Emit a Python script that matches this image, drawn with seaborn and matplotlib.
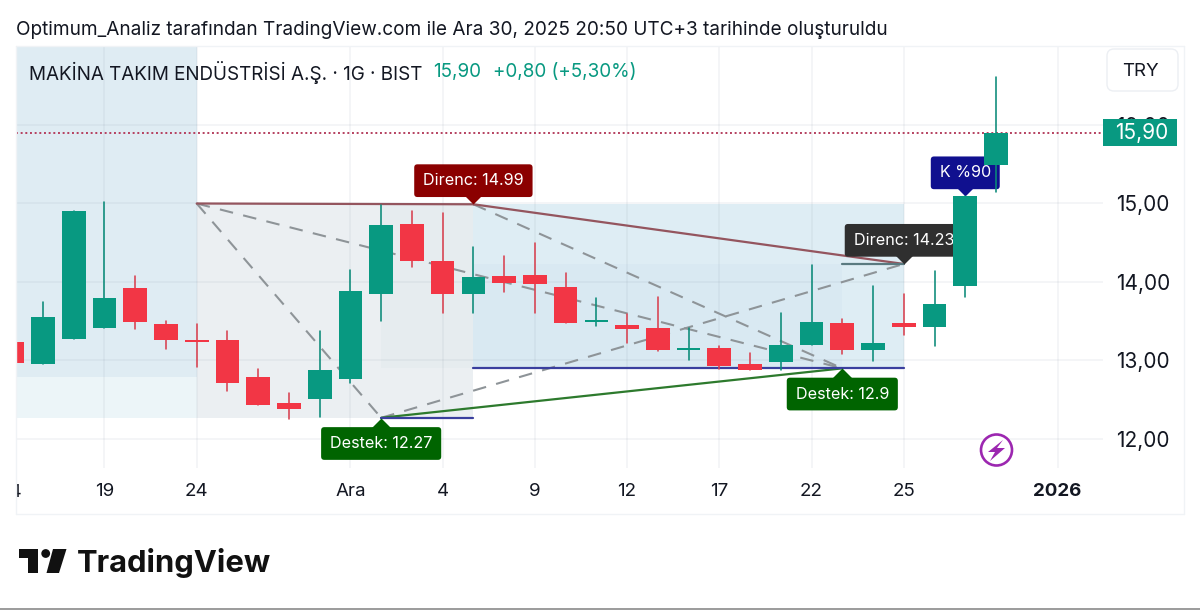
import numpy as np
import pandas as pd
import matplotlib
matplotlib.use("Agg")
import matplotlib.pyplot as plt
import seaborn as sns
from matplotlib.patches import FancyBboxPatch, Rectangle, Circle, Polygon
from matplotlib.path import Path
from matplotlib.transforms import Affine2D, Bbox, TransformedBbox, IdentityTransform, blended_transform_factory

# ---- data ----
bars = list(range(-1, 32))
opens = [13.23,12.96,13.28,13.41,13.92,13.46,13.265,13.257,12.795,12.455,12.51,12.76,13.85,14.735,14.27,13.85,
         14.08,14.09,13.93,13.485,13.45,13.41,13.14,13.155,12.95,12.98,13.20,13.475,13.13,13.48,13.43,13.95,15.49]
highs = [13.23,13.745,14.90,15.015,14.08,13.50,13.46,13.38,12.89,12.58,13.38,14.15,14.98,14.90,14.875,14.45,
         14.325,14.50,14.12,13.79,13.59,13.81,13.41,13.19,13.10,13.60,14.22,13.53,13.95,13.85,14.135,15.09,16.61]
lows = [12.97,12.96,13.28,13.41,13.40,13.146,12.92,12.615,12.43,12.26,12.285,12.71,13.50,14.19,13.61,13.61,
        13.875,13.61,13.48,13.435,13.22,13.12,13.0,12.89,12.88,12.88,13.2,13.08,12.99,13.325,13.185,13.815,15.15]
closes = [12.97,13.55,14.90,13.80,13.49,13.257,13.24,12.71,12.43,12.38,12.875,13.89,14.73,14.27,13.85,14.07,
          13.985,13.97,13.48,13.51,13.40,13.13,13.165,12.925,12.88,13.2,13.49,13.13,13.22,13.43,13.72,15.09,15.895]

rect_k0 = [-2, -2, 5, 11, 14, 14]
rect_k1 = [5, 5, 14, 14, 28, 26]
rect_lo = [12.27, 12.79, 12.27, 12.9, 12.9, 12.9]
rect_hi = [12.79, 18.0, 15.0, 15.0, 14.99, 14.23]
rect_colors = ["#ecf5f8", "#dfecf3", "#ebeff2", "#e6ecef", "#deedf4", "#d9e9f2"]

solid_k0 = [5, 14, 11, 11, 14, 26]
solid_p0 = [15.0, 14.99, 12.27, 12.27, 12.9, 14.23]
solid_k1 = [14, 28, 26, 14, 28, 28]
solid_p1 = [14.99, 14.23, 12.9, 12.27, 12.9, 14.23]
solid_colors = ["#94555e", "#94555e", "#2d7a2d", "#3a3f9e", "#3a3f9e", "#5a7a80"]

dash_k0 = [5, 5, 14, 11]
dash_p0 = [15.0, 15.0, 14.99, 12.27]
dash_k1 = [11, 26, 26, 28]
dash_p1 = [12.27, 12.9, 12.9, 14.23]

x_ticks = [2, 5, 10, 13, 16, 19, 22, 25, 28, 33]
x_labels = ["19", "24", "Ara", "4", "9", "12", "17", "22", "25", "2026"]
y_ticks = [12, 13, 14, 15, 16]
y_labels = ["12,00", "13,00", "14,00", "15,00", "16,00"]
last_price = 15.90

label_texts = ["Direnc: 14.99", "Direnc: 14.23", "Destek: 12.9", "Destek: 12.27", "K %90"]
label_k = [14, 28, 26, 11, 30]
label_p = [14.99, 14.23, 12.9, 12.27, 15.09]
label_colors = ["#8b0000", "#2f2f2f", "#006400", "#006400", "#10108f"]
label_up = [True, True, False, False, True]

# ---- style ----
sns.set_theme(style="white")
FONT = ["Inter", "DejaVu Sans"]
plt.rcParams["font.family"] = FONT
GREEN, RED = "#089981", "#f23645"
WICK_G, WICK_R = "#0a8a78", "#d8404f"
INK = "#131722"

fig = plt.figure(figsize=(12, 6.1), dpi=100, facecolor="white")
T = Affine2D().scale(1 / 1200, -1 / 610).translate(0, 1) + fig.transFigure
ax = fig.add_axes([16 / 1200, 1 - 468 / 610, (1103 - 16) / 1200, (468 - 46) / 610])
ax.set_facecolor("white")
ax.set_xlim(-0.878, 34.48)
ax.set_ylim(15 - (468 - 203.5) / 78.5, 15 + (203.5 - 46) / 78.5)

# zones
for k0, k1, lo, hi, c in zip(rect_k0, rect_k1, rect_lo, rect_hi, rect_colors):
    ax.add_patch(Rectangle((k0, lo), k1 - k0, hi - lo, facecolor=c, edgecolor="none", zorder=0.3))

# axes furniture
ax.set_axisbelow(True)
ax.grid(True, color="#6f7f90", alpha=0.09, linewidth=1.1)
for s in ax.spines.values():
    s.set_visible(False)
ax.set_xticks(x_ticks, x_labels)
ax.yaxis.tick_right()
ax.set_yticks(y_ticks, y_labels)
ax.tick_params(axis="x", length=0, pad=11, labelsize=13.5, labelcolor=INK)
ax.tick_params(axis="y", length=0, pad=9.5, labelsize=15, labelcolor=INK)
for t in ax.get_xticklabels():
    if t.get_text() == "2026":
        t.set_fontweight("bold")
ax.set_xlabel("")
ax.set_ylabel("")

# clipped first time label
clip_left = TransformedBbox(Bbox([[16, 0], [1200, 610]]), IdentityTransform())
t14 = ax.text(-1, -0.0, "14", transform=blended_transform_factory(ax.transData, ax.transAxes),
              ha="center", va="top", fontsize=13.5, color=INK)
t14.set_y(-16 / 422)
t14.set_clip_on(True)
t14.set_clip_box(clip_left)

# dashed fib-like lines
dash_df = pd.DataFrame({
    "k": [v for p in zip(dash_k0, dash_k1) for v in p],
    "p": [v for p in zip(dash_p0, dash_p1) for v in p],
    "id": np.repeat(range(len(dash_k0)), 2),
})
sns.lineplot(data=dash_df, x="k", y="p", units="id", estimator=None, sort=False, color="#8e9498",
             linewidth=1.5, linestyle=(0, (6.5, 5)), legend=False, ax=ax, zorder=2)

# solid trend lines
for k0, p0, k1, p1, c in zip(solid_k0, solid_p0, solid_k1, solid_p1, solid_colors):
    sns.lineplot(x=[k0, k1], y=[p0, p1], estimator=None, sort=False, color=c, linewidth=1.6,
                 legend=False, ax=ax, zorder=2.5)

# last price dotted line
ax.axhline(last_price, color="#b5405f", linewidth=1.4, linestyle=(0, (1, 1.4)), zorder=2.6)

# callouts
for s, k, p, c, up in zip(label_texts, label_k, label_p, label_colors, label_up):
    ax.annotate(s, xy=(k, p), xytext=(0, 17 if up else -18.5), textcoords="offset points",
                ha="center", va="center", color="white", fontsize=11.6, zorder=3,
                bbox=dict(boxstyle="round,pad=0.55,rounding_size=0.2", facecolor=c, edgecolor="none"))
    ax.plot([k], [p], marker=Path([(-1, 1), (1, 1), (0, 0), (-1, 1)]) if up else Path([(-1, -1), (1, -1), (0, 0), (-1, -1)]),
            markersize=14, color=c, markeredgecolor="none", zorder=3, clip_on=False, linestyle="none")

# candles: wicks through seaborn, bodies as bars
up = [c >= o for o, c in zip(opens, closes)]
wick_df = pd.DataFrame({
    "k": np.repeat(bars, 2),
    "p": [v for p in zip(lows, highs) for v in p],
    "dir": np.repeat(["up" if u else "down" for u in up], 2),
})
sns.lineplot(data=wick_df, x="k", y="p", units="k", hue="dir", estimator=None, sort=False,
             palette={"up": WICK_G, "down": WICK_R}, linewidth=1.15, legend=False, ax=ax, zorder=4)
ax.bar(bars, [abs(c - o) for o, c in zip(opens, closes)], bottom=[min(o, c) for o, c in zip(opens, closes)],
       width=0.77, color=[GREEN if u else RED for u in up], linewidth=0, zorder=4.1)
ax.set_xlabel("")
ax.set_ylabel("")

# last price tag
ax.add_patch(Rectangle((1.0, last_price - 0.172), 74 / 1087, 0.344, transform=ax.get_yaxis_transform(),
                       facecolor=GREEN, edgecolor="none", clip_on=False, zorder=6))
ax.annotate(f"{last_price:.2f}".replace(".", ","), xy=(1.0, last_price), xycoords=ax.get_yaxis_transform(),
            xytext=(27.5, 0), textcoords="offset points", ha="center", va="center",
            color="white", fontsize=15, zorder=7, annotation_clip=False)

# frame and page furniture
FRAME = "#f0f3f6"
for xs, ys in [((16, 1184), (46, 46)), ((16, 1184), (514, 514)), ((16, 16), (46, 514)), ((1184, 1184), (46, 514))]:
    fig.add_artist(plt.Line2D(xs, ys, transform=T, color=FRAME, linewidth=1.0))
fig.add_artist(plt.Line2D((0, 1200), (609, 609), transform=T, color="#8a8a8a", linewidth=1.2))

fig.text(16, 30, "Optimum_Analiz tarafından TradingView.com ile Ara 30, 2025 20:50 UTC+3 tarihinde oluşturuldu",
         transform=T, ha="left", va="center", fontsize=13.7, color=INK)
fig.text(29, 72, "MAKİNA TAKIM ENDÜSTRİSİ A.Ş. · 1G · BIST", transform=T, ha="left", va="center",
         fontsize=13.6, color=INK)
fig.text(433, 72, "15,90", transform=T, ha="left", va="center", fontsize=13.6, color=GREEN)
fig.text(493, 72, "+0,80 (+5,30%)", transform=T, ha="left", va="center", fontsize=13.6, color=GREEN)

fig.add_artist(FancyBboxPatch((1107, 49), 71, 42, boxstyle="round,pad=0,rounding_size=7", transform=T,
                              facecolor="white", edgecolor="#eceff3", linewidth=1.0))
fig.text(1140, 71, "TRY", transform=T, ha="center", va="center", fontsize=13.5, color=INK)

# lightning badge
PURPLE = "#9c27b0"
fig.add_artist(Circle((996.5, 450), 15.5, transform=T, facecolor="white", edgecolor=PURPLE, linewidth=1.9))
fig.add_artist(Polygon([(1003, 440), (988, 452), (995, 452), (990, 461), (1005, 448), (997, 448)],
                       closed=True, transform=T, facecolor=PURPLE, edgecolor="none"))

# TradingView logo
fig.add_artist(Polygon([(19, 549), (38, 549), (38, 573), (28, 573), (28, 558), (19, 558)],
                       closed=True, transform=T, facecolor="#111111", edgecolor="none"))
fig.add_artist(Circle((45.7, 553.5), 4.4, transform=T, facecolor="#111111", edgecolor="none"))
fig.add_artist(Polygon([(53, 549), (66.5, 549), (59, 573), (46.5, 573)],
                       closed=True, transform=T, facecolor="#111111", edgecolor="none"))
fig.text(77, 563, "TradingView", transform=T, ha="left", va="center", fontsize=22.3, fontweight="bold",
         color="#111111")

fig.savefig("out.png", dpi=100, facecolor="white")
